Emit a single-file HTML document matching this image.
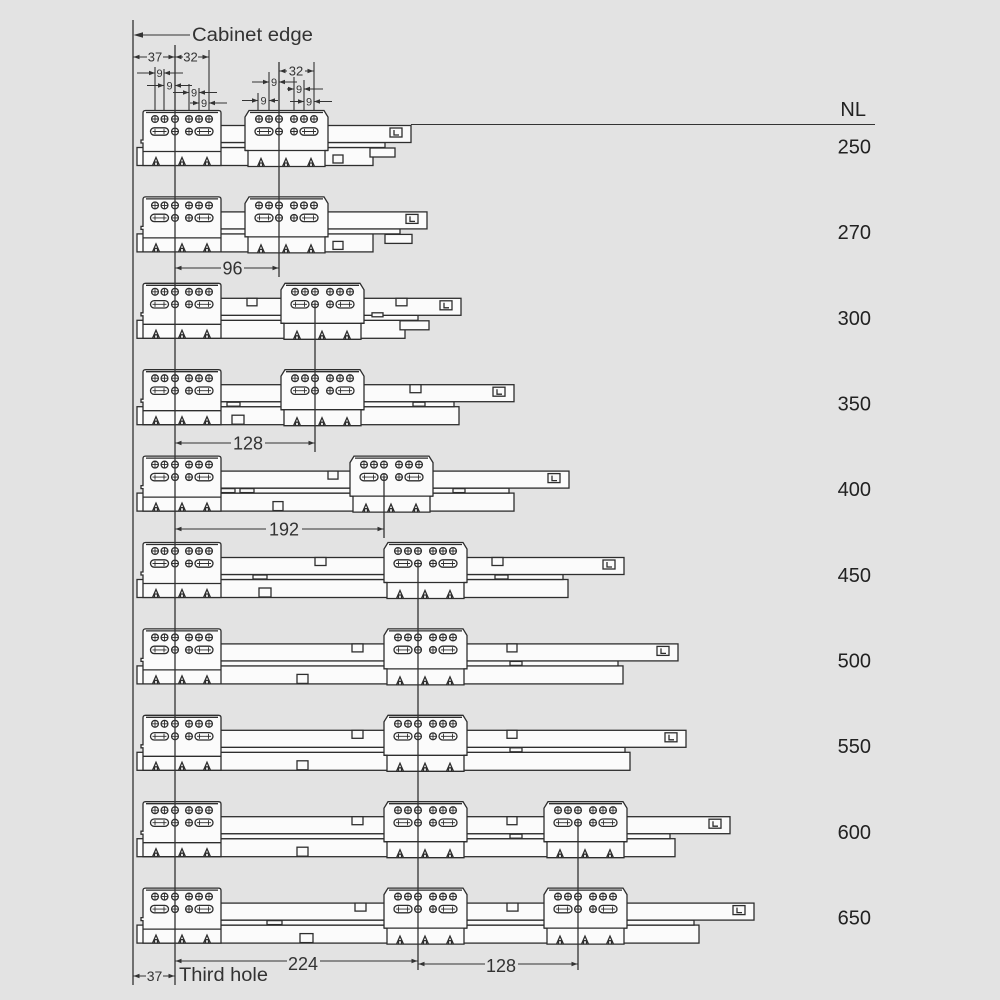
<!DOCTYPE html>
<html>
<head>
<meta charset="utf-8">
<style>
html,body{margin:0;padding:0;background:#e3e3e3;}
svg{display:block;}
.p{fill:#fbfbfb;stroke:#2e2e2e;stroke-width:1.3;}
.l{fill:none;stroke:#333;stroke-width:1.1;}
.v{fill:none;stroke:#333;stroke-width:1.3;}
.a{fill:#333;stroke:none;}
.t9{font-family:"Liberation Sans",sans-serif;font-size:11px;fill:#333;text-anchor:middle;}
.t13{font-family:"Liberation Sans",sans-serif;font-size:13px;fill:#333;text-anchor:middle;}
.t18{font-family:"Liberation Sans",sans-serif;font-size:18px;fill:#333;text-anchor:middle;}
.nl{font-family:"Liberation Sans",sans-serif;font-size:20px;fill:#222;text-anchor:end;}
.big{font-family:"Liberation Sans",sans-serif;font-size:19px;fill:#333;}
</style>
</head>
<body>
<svg width="1000" height="1000" viewBox="0 0 1000 1000" xmlns="http://www.w3.org/2000/svg">
<rect width="1000" height="1000" fill="#e3e3e3"/>
<defs>
  <g id="h"><circle r="3.4"/><path d="M-3.4 0H3.4M0 -3.4V3.4" fill="none" stroke-width="0.9"/></g>
  <g id="s"><rect x="-9" y="-3.7" width="18" height="7.4" rx="3.7"/><path d="M-7 0H7M-4.5 -2.6V2.6M4.5 -2.6V2.6" fill="none" stroke-width="0.9"/></g>
  <path id="t" d="M-3.5 0L0 -8L3.5 0M-1.5 0V-3.5H1.5V0" fill="none"/>
  <g id="et"><rect x="0" y="0" width="12" height="9"/><path d="M4 2V7H9" fill="none"/></g>
  <g id="lb" fill="#fbfbfb" stroke="#2e2e2e" stroke-width="1.3">
    <path d="M-29.5 0.5H43.5Q46 0.5 46 3V55.5H-32V33H-34V30H-32V3Q-32 0.5 -29.5 0.5Z"/>
    <path d="M-32 41.5H46M-29 2.5H43" fill="none"/>
    <use href="#h" x="-20" y="9"/><use href="#h" x="-10.5" y="9"/><use href="#h" x="0" y="9"/>
    <use href="#h" x="14" y="9"/><use href="#h" x="24" y="9"/><use href="#h" x="34" y="9"/>
    <use href="#s" x="-15.5" y="21.5"/><use href="#h" x="0" y="21.5"/><use href="#h" x="14" y="21.5"/><use href="#s" x="29" y="21.5"/>
    <use href="#t" x="-19" y="55.5"/><use href="#t" x="7" y="55.5"/><use href="#t" x="32" y="55.5"/>
  </g>
  <g id="mb" fill="#fbfbfb" stroke="#2e2e2e" stroke-width="1.3">
    <path d="M-30 0.5H45L49 7V40.5H46V56.5H-31V40.5H-34V7Z"/>
    <path d="M-34 40.5H49M-29 2.5H44" fill="none"/>
    <use href="#h" x="-20" y="9"/><use href="#h" x="-10" y="9"/><use href="#h" x="0" y="9"/>
    <use href="#h" x="15" y="9"/><use href="#h" x="25" y="9"/><use href="#h" x="35" y="9"/>
    <use href="#s" x="-15" y="21.5"/><use href="#h" x="0" y="21.5"/><use href="#h" x="15" y="21.5"/><use href="#s" x="30" y="21.5"/>
    <use href="#t" x="-18" y="56.5"/><use href="#t" x="7" y="56.5"/><use href="#t" x="32" y="56.5"/>
  </g>
</defs>

<!-- Row 1 (250) -->
<g transform="translate(0,110)">
  <rect class="p" x="137" y="37.5" width="236" height="18"/>
  <rect class="p" x="215" y="32.5" width="170" height="5"/>
  <rect class="p" x="370" y="38" width="25" height="9"/>
  <rect class="p" x="215" y="15.5" width="196" height="17"/>
  <use href="#et" x="390" y="18" class="p"/>
  <rect class="p" x="333" y="45" width="10" height="8"/>
  <use href="#lb" x="175"/><use href="#mb" x="279"/>
</g>
<!-- Row 2 (270) -->
<g transform="translate(0,196.4)">
  <rect class="p" x="137" y="37.5" width="236" height="18"/>
  <rect class="p" x="215" y="32.5" width="185" height="5"/>
  <rect class="p" x="385" y="38" width="27" height="9"/>
  <rect class="p" x="215" y="15.5" width="212" height="17"/>
  <use href="#et" x="406" y="18" class="p"/>
  <rect class="p" x="333" y="45" width="10" height="8"/>
  <use href="#lb" x="175"/><use href="#mb" x="279"/>
</g>
<!-- Row 3 (300) -->
<g transform="translate(0,282.8)">
  <rect class="p" x="137" y="37.5" width="268" height="18"/>
  <rect class="p" x="215" y="32.5" width="203" height="5"/>
  <rect class="p" x="400" y="38" width="29" height="9"/>
  <rect class="p" x="215" y="15.5" width="246" height="17"/>
  <use href="#et" x="440" y="18" class="p"/>
  <rect class="p" x="247" y="15.5" width="10" height="7.5"/>
  <rect class="p" x="396" y="15.5" width="11" height="7.5"/>
  <rect class="p" x="372" y="30" width="11" height="4"/>
  <use href="#lb" x="175"/><use href="#mb" x="315"/>
</g>
<!-- Row 4 (350) -->
<g transform="translate(0,369.2)">
  <rect class="p" x="137" y="37.5" width="322" height="18"/>
  <rect class="p" x="215" y="32.5" width="239" height="5"/>
  <rect class="p" x="215" y="15.5" width="299" height="17"/>
  <use href="#et" x="493" y="18" class="p"/>
  <rect class="p" x="410" y="15.5" width="11" height="8"/>
  <rect class="p" x="227" y="33" width="13" height="4"/>
  <rect class="p" x="413" y="33" width="12" height="4"/>
  <rect class="p" x="232" y="46" width="12" height="9"/>
  <use href="#lb" x="175"/><use href="#mb" x="315"/>
</g>
<!-- Row 5 (400) -->
<g transform="translate(0,455.6)">
  <rect class="p" x="137" y="37.5" width="377" height="18"/>
  <rect class="p" x="215" y="32.5" width="294" height="5"/>
  <rect class="p" x="215" y="15.5" width="354" height="17"/>
  <use href="#et" x="548" y="18" class="p"/>
  <rect class="p" x="328" y="15.5" width="10" height="8"/>
  <rect class="p" x="221" y="33" width="14" height="4"/>
  <rect class="p" x="240" y="33" width="14" height="4"/>
  <rect class="p" x="453" y="33" width="12" height="4"/>
  <rect class="p" x="273" y="46" width="10" height="9"/>
  <use href="#lb" x="175"/><use href="#mb" x="384"/>
</g>
<!-- Row 6 (450) -->
<g transform="translate(0,542)">
  <rect class="p" x="137" y="37.5" width="431" height="18"/>
  <rect class="p" x="215" y="32.5" width="348" height="5"/>
  <rect class="p" x="215" y="15.5" width="409" height="17"/>
  <use href="#et" x="603" y="18" class="p"/>
  <rect class="p" x="315" y="15.5" width="11" height="8"/>
  <rect class="p" x="492" y="15.5" width="11" height="8"/>
  <rect class="p" x="253" y="33" width="14" height="4"/>
  <rect class="p" x="495" y="33" width="13" height="4"/>
  <rect class="p" x="259" y="46" width="12" height="9"/>
  <use href="#lb" x="175"/><use href="#mb" x="418"/>
</g>
<!-- Row 7 (500) -->
<g transform="translate(0,628.4)">
  <rect class="p" x="137" y="37.5" width="486" height="18"/>
  <rect class="p" x="215" y="32.5" width="403" height="5"/>
  <rect class="p" x="215" y="15.5" width="463" height="17"/>
  <use href="#et" x="657" y="18" class="p"/>
  <rect class="p" x="352" y="15.5" width="11" height="8"/>
  <rect class="p" x="507" y="15.5" width="10" height="8"/>
  <rect class="p" x="510" y="33" width="12" height="4"/>
  <rect class="p" x="297" y="46" width="11" height="9"/>
  <use href="#lb" x="175"/><use href="#mb" x="418"/>
</g>
<!-- Row 8 (550) -->
<g transform="translate(0,714.8)">
  <rect class="p" x="137" y="37.5" width="493" height="18"/>
  <rect class="p" x="215" y="32.5" width="410" height="5"/>
  <rect class="p" x="215" y="15.5" width="471" height="17"/>
  <use href="#et" x="665" y="18" class="p"/>
  <rect class="p" x="352" y="15.5" width="11" height="8"/>
  <rect class="p" x="507" y="15.5" width="10" height="8"/>
  <rect class="p" x="510" y="33" width="12" height="4"/>
  <rect class="p" x="297" y="46" width="11" height="9"/>
  <use href="#lb" x="175"/><use href="#mb" x="418"/>
</g>
<!-- Row 9 (600) -->
<g transform="translate(0,801.2)">
  <rect class="p" x="137" y="37.5" width="538" height="18"/>
  <rect class="p" x="215" y="32.5" width="455" height="5"/>
  <rect class="p" x="215" y="15.5" width="515" height="17"/>
  <use href="#et" x="709" y="18" class="p"/>
  <rect class="p" x="352" y="15.5" width="11" height="8"/>
  <rect class="p" x="507" y="15.5" width="10" height="8"/>
  <rect class="p" x="510" y="33" width="12" height="4"/>
  <rect class="p" x="297" y="46" width="11" height="9"/>
  <use href="#lb" x="175"/><use href="#mb" x="418"/><use href="#mb" x="578"/>
</g>
<!-- Row 10 (650) -->
<g transform="translate(0,887.6)">
  <rect class="p" x="137" y="37.5" width="562" height="18"/>
  <rect class="p" x="215" y="32.5" width="479" height="5"/>
  <rect class="p" x="215" y="15.5" width="539" height="17"/>
  <use href="#et" x="733" y="18" class="p"/>
  <rect class="p" x="355" y="15.5" width="11" height="8"/>
  <rect class="p" x="507" y="15.5" width="11" height="8"/>
  <rect class="p" x="267" y="33" width="15" height="4"/>
  <rect class="p" x="300" y="46" width="13" height="9"/>
  <use href="#lb" x="175"/><use href="#mb" x="418"/><use href="#mb" x="578"/>
</g>

<!-- NL line -->
<path class="l" d="M411 124.5H875"/>

<!-- main vertical lines -->
<path class="v" d="M133 20V985M175 45V985M279 62V277M315 303V452M384 476V538M418 562V970M578 821V970"/>

<!-- extension lines top -->
<path class="l" d="M155 67V110M164 69V110M189 84V110M199 88V110M209 50V110M258 93V110M269 72V110M294 77V110M304 80V110M314 62V110"/>

<!-- Cabinet edge -->
<path class="l" d="M136 35H190"/>
<polygon class="a" points="133.5,35 143,32.3 143,37.7"/>
<text class="big" x="192" y="41" textLength="121" lengthAdjust="spacingAndGlyphs">Cabinet edge</text>

<!-- 37 / 32 top -->
<path class="l" d="M133 57H147M163 57H175M175 57H183M198 57H209"/>
<polygon class="a" points="133.5,57 139.5,54.8 139.5,59.2"/>
<polygon class="a" points="174.5,57 168.5,54.8 168.5,59.2"/>
<polygon class="a" points="175.5,57 181.5,54.8 181.5,59.2"/>
<polygon class="a" points="208.5,57 202.5,54.8 202.5,59.2"/>
<text class="t13" x="155" y="61.5">37</text>
<text class="t13" x="190.5" y="61.5">32</text>

<!-- 9 dims left -->
<path class="l" d="M137 73H155M164 73H183"/>
<polygon class="a" points="155,73 149,70.8 149,75.2"/><polygon class="a" points="164,73 170,70.8 170,75.2"/>
<text class="t9" x="159.5" y="77">9</text>
<path class="l" d="M147 85.5H164M175 85.5H192"/>
<polygon class="a" points="164,85.5 158,83.3 158,87.7"/><polygon class="a" points="175,85.5 181,83.3 181,87.7"/>
<text class="t9" x="169.5" y="89.5">9</text>
<path class="l" d="M173 92.5H189M199 92.5H217"/>
<polygon class="a" points="189,92.5 183,90.3 183,94.7"/><polygon class="a" points="199,92.5 205,90.3 205,94.7"/>
<text class="t9" x="194" y="96.5">9</text>
<path class="l" d="M190 103H199M209 103H227"/>
<polygon class="a" points="199,103 193,100.8 193,105.2"/><polygon class="a" points="209,103 215,100.8 215,105.2"/>
<text class="t9" x="204" y="107">9</text>

<!-- middle bracket dims -->
<path class="l" d="M279 71H287M305 71H314"/>
<polygon class="a" points="279.5,71 285.5,68.8 285.5,73.2"/><polygon class="a" points="313.5,71 307.5,68.8 307.5,73.2"/>
<text class="t13" x="296" y="75.5">32</text>
<path class="l" d="M252 82H269M279 82H297"/>
<polygon class="a" points="269,82 263,79.8 263,84.2"/><polygon class="a" points="279,82 285,79.8 285,84.2"/>
<text class="t9" x="274" y="86">9</text>
<path class="l" d="M287 89H294M304 89H323"/>
<polygon class="a" points="294,89 288,86.8 288,91.2"/><polygon class="a" points="304,89 310,86.8 310,91.2"/>
<text class="t9" x="299" y="93">9</text>
<path class="l" d="M242 100.5H258M269 100.5H278"/>
<polygon class="a" points="258,100.5 252,98.3 252,102.7"/><polygon class="a" points="269,100.5 275,98.3 275,102.7"/>
<text class="t9" x="263.5" y="104.5">9</text>
<path class="l" d="M290 101.5H304M314 101.5H332"/>
<polygon class="a" points="304,101.5 298,99.3 298,103.7"/><polygon class="a" points="314,101.5 320,99.3 320,103.7"/>
<text class="t9" x="309" y="105.5">9</text>

<!-- 96 -->
<path class="l" d="M175 268H221M244 268H279"/>
<polygon class="a" points="175.5,268 181.5,265.8 181.5,270.2"/><polygon class="a" points="278.5,268 272.5,265.8 272.5,270.2"/>
<text class="t18" x="232.5" y="274.5">96</text>
<!-- 128 -->
<path class="l" d="M175 443H231M265 443H315"/>
<polygon class="a" points="175.5,443 181.5,440.8 181.5,445.2"/><polygon class="a" points="314.5,443 308.5,440.8 308.5,445.2"/>
<text class="t18" x="248" y="449.5">128</text>
<!-- 192 -->
<path class="l" d="M175 529H266M302 529H384"/>
<polygon class="a" points="175.5,529 181.5,526.8 181.5,531.2"/><polygon class="a" points="383.5,529 377.5,526.8 377.5,531.2"/>
<text class="t18" x="284" y="535.5">192</text>

<!-- bottom dims -->
<path class="l" d="M133 976H146M163 976H175"/>
<polygon class="a" points="133.5,976 139.5,973.8 139.5,978.2"/><polygon class="a" points="174.5,976 168.5,973.8 168.5,978.2"/>
<text font-family="Liberation Sans, sans-serif" font-size="14" fill="#333" text-anchor="middle" x="154.5" y="981">37</text>
<text class="big" x="179" y="981" font-size="20" textLength="89" lengthAdjust="spacingAndGlyphs">Third hole</text>
<path class="l" d="M175 961H287M320 961H418"/>
<polygon class="a" points="175.5,961 181.5,958.8 181.5,963.2"/><polygon class="a" points="417.5,961 411.5,958.8 411.5,963.2"/>
<text class="t18" x="303" y="970">224</text>
<path class="l" d="M418 964H485M518 964H578"/>
<polygon class="a" points="418.5,964 424.5,961.8 424.5,966.2"/><polygon class="a" points="577.5,964 571.5,961.8 571.5,966.2"/>
<text class="t18" x="501" y="972">128</text>

<!-- NL labels -->
<text class="nl" x="866" y="116">NL</text>
<text class="nl" x="871" y="153.5">250</text>
<text class="nl" x="871" y="239.2">270</text>
<text class="nl" x="871" y="324.8">300</text>
<text class="nl" x="871" y="410.5">350</text>
<text class="nl" x="871" y="496.2">400</text>
<text class="nl" x="871" y="581.8">450</text>
<text class="nl" x="871" y="667.5">500</text>
<text class="nl" x="871" y="753.2">550</text>
<text class="nl" x="871" y="838.9">600</text>
<text class="nl" x="871" y="924.5">650</text>
</svg>
</body>
</html>
